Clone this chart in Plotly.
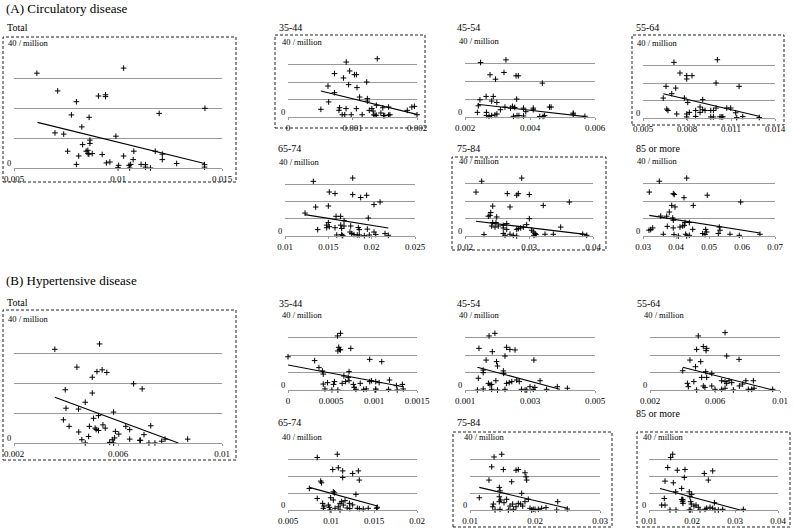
import plotly.graph_objects as go

W, H = 793, 529

# ---------------- data ----------------
# (A) Circulatory disease
a_total_x = [0.0061, 0.01027, 0.0071, 0.00906, 0.0094, 0.0094, 0.0080, 0.01418, 0.00776, 0.00861,
             0.01198, 0.00826, 0.00697, 0.00739, 0.0099, 0.00865, 0.00865, 0.0083, 0.00758, 0.00847,
             0.00855, 0.00856, 0.0086, 0.00876, 0.00811, 0.00924, 0.01027, 0.01076, 0.01179, 0.01213,
             0.01213, 0.01073, 0.0080, 0.00944, 0.00961, 0.01003, 0.0100, 0.01053, 0.01056, 0.01061,
             0.01111, 0.01132, 0.01132, 0.01156, 0.01282, 0.01416, 0.01416]
a_total_y = [31.6, 33.3, 25.7, 24.0, 24.4, 23.8, 22.1, 19.9, 17.7, 16.9,
             18.2, 13.7, 11.7, 11.3, 10.6, 9.3, 8.2, 7.8, 5.6, 5.6,
             5.9, 4.8, 4.6, 4.8, 4.0, 4.5, 4.0, 5.6, 5.6, 4.6,
             2.8, 2.8, 1.2, 1.7, 2.0, 0.9, 0.1, 0.9, 0.0, 1.2,
             1.2, 1.1, 0.3, 0.0, 1.5, 1.1, 0.3]
a_total_trend_x = [0.00613, 0.01416]
a_total_trend_y = [15.2, 1.5]

a_35_x = [0.000903, 0.001384, 0.00072, 0.000956, 0.00103, 0.00106, 0.00086, 0.00122, 0.00062, 0.00094,
          0.00107, 0.00072, 0.00111, 0.00123, 0.00123, 0.00063, 0.00051, 0.00080, 0.00079, 0.00090,
          0.00106, 0.00130, 0.00137, 0.00147, 0.00156, 0.00126, 0.00132, 0.00084, 0.00088, 0.00098,
          0.00115, 0.00133, 0.00135, 0.00137, 0.00148, 0.00150, 0.00156, 0.00158, 0.00144, 0.00185,
          0.00192, 0.00196, 0.00200]
a_35_y = [31.4, 33.3, 24.8, 26.3, 24.2, 24.2, 22.3, 20.0, 17.7, 18.5,
          16.8, 13.9, 11.4, 10.5, 9.1, 8.6, 4.4, 5.3, 3.8, 4.8,
          4.8, 4.8, 6.7, 5.3, 5.7, 3.8, 3.4, 1.3, 1.3, 1.3,
          1.3, 1.2, 1.0, 1.0, 0.8, 0.8, 1.1, 1.3, 2.3, 3.8,
          5.7, 6.1, 1.3]
a_35_trend_x = [0.00051, 0.0020]
a_35_trend_y = [14.9, 1.5]

a_45_x = [0.00248, 0.00326, 0.00277, 0.00294, 0.00320, 0.00357, 0.00364, 0.00265, 0.00287, 0.00298,
          0.00241, 0.00246, 0.00282, 0.00323, 0.00266, 0.00309, 0.00340, 0.00346, 0.00353, 0.00359,
          0.00380, 0.00238, 0.00266, 0.00274, 0.00282, 0.00292, 0.00298, 0.00349, 0.00360, 0.00366,
          0.00380, 0.00387, 0.00438, 0.00410, 0.00410, 0.00460, 0.00465, 0.00533, 0.00533, 0.00569,
          0.00430, 0.00440, 0.00445]
a_45_y = [30.7, 32.2, 23.8, 21.3, 25.1, 23.2, 23.2, 11.6, 11.6, 8.2,
          6.3, 9.7, 9.0, 5.6, 2.6, 4.1, 5.0, 6.0, 5.4, 10.1,
          5.0, 2.6, 0.8, 0.4, 0.8, 1.2, 1.7, 0.4, 0.8, 0.8,
          0.6, 3.0, 19.1, 5.0, 4.1, 5.6, 5.6, 2.2, 1.6, 0.4,
          0.3, 0.3, 0.8]
a_45_trend_x = [0.00238, 0.0057]
a_45_trend_y = [7.2, 0.2]

a_55_x = [0.00711, 0.01007, 0.00752, 0.00798, 0.00798, 0.00834, 0.00998, 0.01155, 0.00657, 0.00723,
          0.00696, 0.00638, 0.00782, 0.00907, 0.00805, 0.00662, 0.0067, 0.00816, 0.00798, 0.00859,
          0.00889, 0.00907, 0.00923, 0.00962, 0.0098, 0.00998, 0.01071, 0.01098, 0.01132, 0.0073,
          0.00798, 0.00859, 0.00962, 0.0098, 0.01025, 0.01037, 0.01044, 0.01139, 0.0118, 0.01293,
          0.00889]
a_55_y = [31.8, 33.3, 25.7, 24.2, 22.3, 24.2, 20.0, 18.1, 18.1, 17.1,
          13.9, 11.4, 11.4, 10.5, 8.9, 5.1, 4.3, 3.2, 2.3, 4.3,
          6.3, 4.7, 4.3, 4.3, 4.3, 5.7, 5.7, 5.7, 3.0, 2.3,
          0.6, 0.9, 0.6, 0.6, 0.7, 0.6, 0.7, 0.2, 0.8, 0.3,
          3.2]
a_55_trend_x = [0.00638, 0.01298]
a_55_trend_y = [13.9, 0.9]

a_65_x = [0.01327, 0.01781, 0.01511, 0.01577, 0.01781, 0.01873, 0.01942, 0.01354, 0.0150, 0.02027,
          0.02097, 0.01231, 0.01589, 0.01642, 0.01681, 0.01961, 0.0150, 0.01481, 0.01511, 0.01481,
          0.01577, 0.01643, 0.01654, 0.01681, 0.01377, 0.01758, 0.01846, 0.01857, 0.0195, 0.02027,
          0.02047, 0.01597, 0.01654, 0.01666, 0.0175, 0.0177, 0.01796, 0.01834, 0.01857, 0.01915,
          0.01973, 0.02154, 0.02192]
a_65_y = [31.7, 33.6, 25.5, 24.6, 24.0, 22.3, 23.6, 16.8, 17.4, 18.2,
          19.7, 13.3, 11.4, 11.4, 8.9, 10.4, 7.8, 6.3, 5.4, 4.8,
          4.8, 6.3, 4.4, 5.8, 3.7, 5.8, 4.9, 3.7, 4.0, 2.3,
          0.8, 0.6, 0.8, 0.2, 2.3, 1.4, 0.8, 0.6, 0.6, 0.2,
          0.6, 1.4, 0.4]
a_65_trend_x = [0.01231, 0.02192]
a_65_trend_y = [12.4, 4.6]

a_75_x = [0.02261, 0.02886, 0.02172, 0.02661, 0.02808, 0.02833, 0.03005, 0.02433, 0.02703, 0.02402,
          0.02391, 0.02495, 0.02364, 0.02433, 0.02484, 0.02417, 0.02469, 0.0252, 0.02598, 0.02652,
          0.02598, 0.02652, 0.02808, 0.02833, 0.0287, 0.02911, 0.02964, 0.02297, 0.02598, 0.02625,
          0.02703, 0.02755, 0.02808, 0.03005, 0.03223, 0.0363, 0.03495, 0.03042, 0.03067, 0.03094,
          0.03109, 0.03078, 0.0325, 0.0338, 0.03839, 0.03902]
a_75_y = [31.3, 33.1, 25.1, 24.2, 23.3, 24.2, 23.7, 17.1, 16.6, 13.4,
          11.8, 10.9, 11.3, 7.7, 7.7, 5.7, 5.1, 5.7, 6.1, 7.1,
          4.6, 3.8, 3.8, 4.2, 4.6, 5.1, 6.5, 0.8, 1.4, 0.4,
          1.0, 0.4, 0.0, 9.9, 17.5, 19.4, 5.1, 3.3, 2.3, 1.4,
          0.8, 0.4, 1.0, 1.0, 1.0, 0.4]
a_75_trend_x = [0.02172, 0.03911]
a_75_trend_y = [8.4, 0.8]

a_85_x = [0.03494, 0.04324, 0.03191, 0.03918, 0.03948, 0.04242, 0.04948, 0.0596, 0.0387, 0.0397,
          0.04524, 0.03797, 0.03536, 0.03718, 0.039, 0.03918, 0.04273, 0.04403, 0.03182, 0.03233,
          0.03294, 0.03736, 0.03918, 0.04121, 0.04203, 0.04251, 0.04506, 0.049, 0.0493, 0.05312,
          0.05333, 0.03615, 0.03939, 0.0407, 0.04294, 0.04324, 0.04403, 0.04809, 0.04879, 0.05282,
          0.05636, 0.05918, 0.06545]
a_85_y = [31.3, 33.1, 25.1, 24.2, 23.7, 21.9, 23.3, 19.4, 17.5, 16.6,
          17.5, 13.7, 11.4, 11.3, 10.3, 9.0, 7.7, 7.7, 3.3, 3.7,
          4.6, 5.5, 4.6, 5.1, 5.7, 6.1, 3.8, 3.8, 2.3, 5.1,
          3.3, 1.0, 0.8, 0.0, 1.0, 0.0, 0.4, 1.4, 0.8, 1.4,
          1.0, 0.4, 1.0]
a_85_trend_x = [0.03191, 0.06545]
a_85_trend_y = [11.8, 1.7]

# (B) Hypertensive disease
b_total_x = [0.00357, 0.00529, 0.00442, 0.00501, 0.00519, 0.00539, 0.00557, 0.00397, 0.00501, 0.00660,
             0.00693, 0.00474, 0.00400, 0.00448, 0.00583, 0.00390, 0.00506, 0.00525, 0.00412, 0.00490,
             0.00512, 0.00516, 0.00525, 0.00542, 0.00551, 0.00449, 0.00487, 0.00590, 0.00603, 0.00630,
             0.00645, 0.00700, 0.00726, 0.00461, 0.00474, 0.00568, 0.00578, 0.00587, 0.00583, 0.00645,
             0.00684, 0.00686, 0.00719, 0.00742, 0.00768, 0.00781, 0.00868]
b_total_y = [31.5, 33.3, 25.5, 22.1, 24.0, 24.6, 23.7, 17.9, 16.8, 19.9,
             18.2, 13.7, 11.7, 11.4, 10.4, 7.8, 8.3, 9.2, 5.6, 5.6,
             5.0, 4.5, 4.2, 6.1, 5.0, 3.7, 2.2, 3.9, 3.0, 5.6,
             4.5, 2.8, 5.8, 1.1, 0.0, 0.2, 1.1, 1.7, 0.0, 1.3,
             0.9, 0.9, 0.0, 0.0, 0.6, 1.3, 1.3]
b_total_trend_x = [0.00357, 0.00832]
b_total_trend_y = [15.4, 0.0]

b_35_x = [0.000576, 0.00061, 0.00059, 0.0006, 0.00058, 0.00061, 0.00073, 0.0, 0.00031, 0.00095,
          0.00109, 0.00036, 0.0004, 0.00041, 0.00071, 0.00065, 0.0007, 0.00041, 0.00046, 0.00054,
          0.00053, 0.00063, 0.00067, 0.00071, 0.00076, 0.00084, 0.00095, 0.00097, 0.00102, 0.00106,
          0.00118, 0.00126, 0.00133, 0.00043, 0.00051, 0.00058, 0.00079, 0.00088, 0.00091, 0.00102,
          0.00102, 0.00117, 0.00127, 0.00134, 0.00077]
b_35_y = [30.9, 32.4, 24.4, 23.2, 22.3, 22.9, 23.8, 19.0, 16.8, 17.5,
          16.2, 12.8, 10.9, 9.1, 10.5, 8.0, 7.2, 3.4, 4.2, 4.8,
          3.2, 3.8, 4.8, 5.3, 3.2, 3.8, 4.8, 5.3, 4.8, 4.2,
          5.7, 2.5, 3.2, 0.6, 0.0, 0.0, 0.4, 0.4, 0.6, 0.6,
          0.0, 0.4, 0.0, 0.6, 1.5]
b_35_trend_x = [0.0, 0.00134]
b_35_trend_y = [14.3, 1.9]

b_45_x = [0.00174, 0.00192, 0.00228, 0.00238, 0.00254, 0.00143, 0.00184, 0.00223, 0.00165, 0.00197,
          0.0020, 0.00156, 0.00156, 0.00218, 0.00219, 0.00141, 0.00172, 0.00177, 0.00182, 0.00195,
          0.00228, 0.00236, 0.00244, 0.00259, 0.00267, 0.00138, 0.00156, 0.00182, 0.0020, 0.00223,
          0.00274, 0.00285, 0.0029, 0.00312, 0.003, 0.0031, 0.00315, 0.00331, 0.00351, 0.00384,
          0.00415]
b_45_y = [30.9, 32.4, 24.4, 23.2, 22.9, 23.8, 21.9, 19.4, 17.1, 16.2,
          13.7, 11.4, 9.9, 10.9, 9.5, 6.7, 3.8, 2.9, 3.2, 5.3,
          3.8, 4.2, 4.8, 5.7, 4.8, 0.0, 0.6, 0.4, 0.0, 0.4,
          0.4, 0.0, 0.0, 17.1, 1.9, 0.4, 1.5, 5.3, 0.4, 1.9,
          1.0]
b_45_trend_x = [0.00138, 0.00392]
b_45_trend_y = [13.0, 0.4]

b_55_x = [0.00497, 0.00662, 0.00487, 0.00528, 0.00549, 0.00545, 0.00672, 0.00748, 0.00446, 0.00512,
          0.00401, 0.0048, 0.00543, 0.0058, 0.00518, 0.00549, 0.0079, 0.00836, 0.0043, 0.00436,
          0.0047, 0.00528, 0.00538, 0.0058, 0.00641, 0.00662, 0.00672, 0.00686, 0.00703, 0.0075,
          0.0077, 0.00805, 0.00826, 0.0084, 0.00487, 0.006, 0.00641, 0.00662, 0.00713, 0.00955]
b_55_y = [30.9, 32.8, 23.2, 24.8, 23.8, 22.5, 19.4, 17.5, 17.1, 16.2,
          11.0, 13.3, 10.5, 9.5, 7.2, 7.2, 5.3, 5.3, 3.8, 1.9,
          4.8, 2.3, 1.5, 2.3, 5.3, 4.8, 3.8, 5.3, 4.2, 2.3,
          3.4, 0.4, 0.4, 1.0, 0.0, 0.4, 0.4, 1.0, 0.0, 0.4]
b_55_trend_x = [0.00401, 0.00955]
b_55_trend_y = [13.0, 0.0]

b_65_x = [0.0084, 0.01073, 0.0102, 0.01085, 0.01136, 0.01252, 0.01318, 0.01136, 0.01329, 0.0088,
          0.0089, 0.00748, 0.01027, 0.0104, 0.0129, 0.0084, 0.00996, 0.01027, 0.00903, 0.00919,
          0.00911, 0.00969, 0.0098, 0.01105, 0.01124, 0.01163, 0.01143, 0.01214, 0.01252, 0.01047,
          0.01085, 0.01105, 0.01188, 0.01219, 0.01306, 0.01329, 0.01375, 0.01433, 0.0153, 0.01538,
          0.0099]
b_65_y = [30.9, 32.8, 23.8, 24.8, 23.0, 21.5, 23.0, 19.1, 17.6, 17.0,
          16.0, 12.7, 10.7, 10.1, 9.2, 6.8, 7.2, 5.9, 3.9, 2.3,
          1.0, 2.9, 1.6, 3.9, 4.9, 5.5, 2.9, 3.9, 3.0, 1.0,
          1.9, 0.0, 1.2, 0.8, 1.0, 0.8, 0.6, 1.0, 1.0, 1.6,
          0.0]
b_65_trend_x = [0.00748, 0.01539]
b_65_trend_y = [13.3, 2.3]

b_75_x = [0.0137, 0.01488, 0.01334, 0.01513, 0.01708, 0.01743, 0.01846, 0.01862, 0.01872, 0.01292,
          0.01641, 0.01451, 0.01462, 0.01143, 0.01451, 0.01472, 0.01795, 0.01359, 0.01349, 0.01385,
          0.01451, 0.01523, 0.01564, 0.01615, 0.01656, 0.01708, 0.01743, 0.0178, 0.01811, 0.01846,
          0.01897, 0.01462, 0.0159, 0.01667, 0.01923, 0.01949, 0.01974, 0.02, 0.02051, 0.02103,
          0.02169, 0.02349, 0.02334, 0.02497]
b_75_y = [31.2, 32.8, 25.4, 23.8, 23.4, 23.8, 21.9, 19.5, 17.6, 17.6,
          16.6, 13.3, 11.3, 7.2, 7.8, 5.9, 9.8, 3.5, 1.9, 0.0,
          4.9, 4.3, 6.3, 2.3, 3.5, 1.9, 3.9, 3.5, 2.3, 4.9,
          6.3, 0.4, 0.0, 0.4, 1.0, 0.0, 0.4, 0.4, 0.4, 1.0,
          1.4, 4.9, 0.0, 0.6]
b_75_trend_x = [0.01143, 0.025]
b_75_trend_y = [13.3, 1.0]

b_85_x = [0.01551, 0.01504, 0.01435, 0.01658, 0.01837, 0.02286, 0.02481, 0.01821, 0.02379, 0.01372,
          0.01566, 0.0176, 0.01621, 0.01937, 0.01993, 0.01356, 0.0176, 0.01775, 0.0179, 0.01953,
          0.01295, 0.01372, 0.0178, 0.0179, 0.0197, 0.01984, 0.02046, 0.02093, 0.02147, 0.0252,
          0.02341, 0.02419, 0.02481, 0.02535, 0.02714, 0.02612, 0.01488, 0.01628, 0.01937, 0.0197,
          0.02186, 0.02302, 0.03193]
b_85_y = [32.8, 30.9, 25.0, 23.4, 23.8, 21.5, 23.0, 19.1, 17.6, 17.0,
          16.0, 12.7, 10.7, 10.7, 9.2, 6.8, 6.2, 6.2, 5.9, 7.8,
          2.9, 2.9, 4.9, 3.9, 4.9, 3.5, 2.3, 2.9, 1.6, 4.3,
          1.0, 1.6, 1.0, 0.0, 0.4, 0.0, 0.0, 0.0, 0.0, 0.0,
          0.0, 0.4, 0.4]
b_85_trend_x = [0.01256, 0.0312]
b_85_trend_y = [12.7, 0.0]

# tick labels per panel
ticks_a_total = ["0.005", "0.01", "0.015"]
ticks_a_35 = ["0", "0.001", "0.002"]
ticks_a_45 = ["0.002", "0.004", "0.006"]
ticks_a_55 = ["0.005", "0.008", "0.011", "0.014"]
ticks_a_65 = ["0.01", "0.015", "0.02", "0.025"]
ticks_a_75 = ["0.02", "0.03", "0.04"]
ticks_a_85 = ["0.03", "0.04", "0.05", "0.06", "0.07"]
ticks_b_total = ["0.002", "0.006", "0.01"]
ticks_b_35 = ["0", "0.0005", "0.001", "0.0015"]
ticks_b_45 = ["0.001", "0.003", "0.005"]
ticks_b_55 = ["0.002", "0.006", "0.01"]
ticks_b_65 = ["0.005", "0.01", "0.015", "0.02"]
ticks_b_75 = ["0.01", "0.02", "0.03"]
ticks_b_85 = ["0.01", "0.02", "0.03", "0.04"]

# ---------------- layout of panels (pixels) ----------------
# name, x, y, trend x, trend y, tick labels, x0, x1, y40, y0, label pos, dashed box
panels = [
    ("Total", a_total_x, a_total_y, a_total_trend_x, a_total_trend_y, ticks_a_total,
     14, 222, 48, 168, (5, 28), (3, 37, 236, 182)),
    ("35-44", a_35_x, a_35_y, a_35_trend_x, a_35_trend_y, ticks_a_35,
     288, 417, 47, 117, (277, 28), (275, 35, 425, 128)),
    ("45-54", a_45_x, a_45_y, a_45_trend_x, a_45_trend_y, ticks_a_45,
     465, 595, 46, 117, (455, 28), None),
    ("55-64", a_55_x, a_55_y, a_55_trend_x, a_55_trend_y, ticks_a_55,
     643, 775, 48, 118, (634, 28), (632, 35, 784, 125)),
    ("65-74", a_65_x, a_65_y, a_65_trend_x, a_65_trend_y, ticks_a_65,
     285, 415, 167, 236, (276, 148), None),
    ("75-84", a_75_x, a_75_y, a_75_trend_x, a_75_trend_y, ticks_a_75,
     465, 593, 166, 236, (455, 148), (452, 157, 606, 250)),
    ("85 or more", a_85_x, a_85_y, a_85_trend_x, a_85_trend_y, ticks_a_85,
     643, 775, 166, 236, (634, 148), None),
    ("Total", b_total_x, b_total_y, b_total_trend_x, b_total_trend_y, ticks_b_total,
     14, 222, 324, 443, (5, 302), (3, 310, 236, 460)),
    ("35-44", b_35_x, b_35_y, b_35_trend_x, b_35_trend_y, ticks_b_35,
     288, 417, 320, 390, (277, 303), None),
    ("45-54", b_45_x, b_45_y, b_45_trend_x, b_45_trend_y, ticks_b_45,
     465, 595, 320, 390, (455, 303), None),
    ("55-64", b_55_x, b_55_y, b_55_trend_x, b_55_trend_y, ticks_b_55,
     650, 780, 320, 390, (635, 303), None),
    ("65-74", b_65_x, b_65_y, b_65_trend_x, b_65_trend_y, ticks_b_65,
     288, 417, 442, 510, (276, 422), None),
    ("75-84", b_75_x, b_75_y, b_75_trend_x, b_75_trend_y, ticks_b_75,
     470, 600, 442, 510, (455, 422), (453, 432, 612, 527)),
    ("85 or more", b_85_x, b_85_y, b_85_trend_x, b_85_trend_y, ticks_b_85,
     649, 778, 442, 510, (634, 413), (637, 432, 790, 527)),
]

SERIF = "Liberation Serif, Times New Roman, serif"
GRID = "#9a9a9a"


def px_x(p):
    return p / W


def px_y(p):
    return 1 - p / H


fig = go.Figure()
annotations = []
shapes = []
layout_axes = {}

for i, (name, xs, ys, tx, ty, tick_text, x0, x1, y40, y0, lab, box) in enumerate(panels):
    n = i + 1
    sfx = "" if n == 1 else str(n)
    tick_vals = [float(t) for t in tick_text]

    fig.add_trace(go.Scatter(
        x=xs, y=ys, mode="markers", xaxis="x" + sfx, yaxis="y" + sfx,
        marker=dict(symbol="cross-thin", size=4, line=dict(width=1, color="black"), color="black"),
        cliponaxis=False, hoverinfo="skip", showlegend=False,
    ))
    fig.add_trace(go.Scatter(
        x=tx, y=ty, mode="lines", xaxis="x" + sfx, yaxis="y" + sfx,
        line=dict(color="black", width=1.1),
        cliponaxis=False, hoverinfo="skip", showlegend=False,
    ))

    layout_axes["xaxis" + sfx] = dict(
        domain=[px_x(x0), px_x(x1)], anchor="y" + sfx,
        range=[tick_vals[0], tick_vals[-1]],
        tickvals=tick_vals, ticktext=tick_text,
        showgrid=False, zeroline=False, showline=True, linecolor=GRID, linewidth=1,
        ticks="outside", ticklen=2, tickcolor=GRID,
        tickfont=dict(family=SERIF, size=9, color="black"),
        automargin=False, fixedrange=True,
    )
    layout_axes["yaxis" + sfx] = dict(
        domain=[px_y(y0), px_y(y40)], anchor="x" + sfx,
        range=[0, 40], dtick=10, showgrid=True, gridcolor=GRID, gridwidth=1,
        zeroline=False, showline=False, showticklabels=False, ticks="",
        automargin=False, fixedrange=True,
    )

    annotations.append(dict(
        text=name, xref="paper", yref="paper", x=px_x(lab[0]), y=px_y(lab[1]),
        xanchor="left", yanchor="middle", showarrow=False,
        font=dict(family=SERIF, size=10, color="black"),
    ))
    annotations.append(dict(
        text="40 / million", xref="x%s domain" % sfx, yref="y%s domain" % sfx,
        x=0, y=1, xshift=-8, yshift=-2, xanchor="left", yanchor="bottom", showarrow=False,
        font=dict(family=SERIF, size=8.5, color="black"),
    ))
    annotations.append(dict(
        text="0", xref="x%s domain" % sfx, yref="y%s domain" % sfx,
        x=0, y=0, xshift=-1, yshift=-2, xanchor="right", yanchor="bottom", showarrow=False,
        font=dict(family=SERIF, size=8.5, color="black"),
    ))
    if box:
        shapes.append(dict(
            type="rect", xref="paper", yref="paper",
            x0=px_x(box[0]), x1=px_x(box[2]), y0=px_y(box[3]), y1=px_y(box[1]),
            line=dict(color="#222222", width=1, dash="3px,2px"),
        ))

for text, yy in [("(A) Circulatory disease", 8), ("(B) Hypertensive disease", 280)]:
    annotations.append(dict(
        text=text, xref="paper", yref="paper", x=px_x(4), y=px_y(yy),
        xanchor="left", yanchor="middle", showarrow=False,
        font=dict(family=SERIF, size=13, color="black"),
    ))

fig.update_layout(
    width=W, height=H,
    margin=dict(l=0, r=0, t=0, b=0),
    paper_bgcolor="white", plot_bgcolor="white",
    showlegend=False,
    annotations=annotations,
    shapes=shapes,
    **layout_axes,
)

# the page body has a default 8px margin; drop it so the figure sits at the window's corner
fig.write_html("out.html", config={"displayModeBar": False},
               post_script="document.body.style.margin='0';")
